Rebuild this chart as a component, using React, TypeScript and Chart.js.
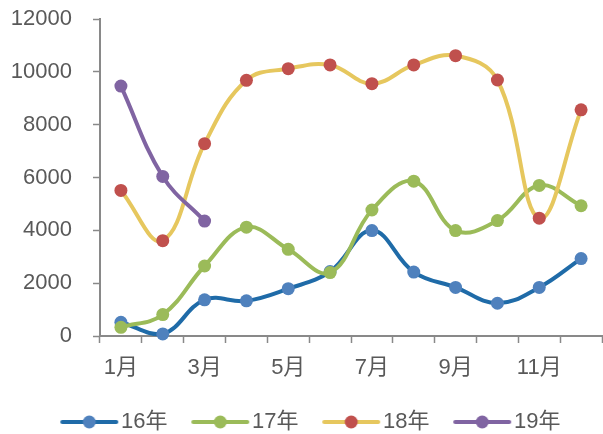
import React, { useEffect, useRef } from 'react';
import { Chart, registerables } from 'chart.js';

Chart.register(...registerables);

const months = ['1月', '2月', '3月', '4月', '5月', '6月', '7月', '8月', '9月', '10月', '11月', '12月'];
const seriesNames = ['16年', '17年', '18年', '19年'];
const s16 = [520, 80, 1370, 1330, 1790, 2440, 3990, 2420, 1840, 1240, 1840, 2930];
const s17 = [330, 810, 2650, 4120, 3280, 2400, 4770, 5860, 3990, 4370, 5700, 4930];
const s18 = [5510, 3610, 7280, 9680, 10120, 10260, 9550, 10260, 10610, 9690, 4460, 8560];
const s19 = [9460, 6040, 4350, null, null, null, null, null, null, null, null, null];
const yMin = 0;
const yMax = 12000;
const yStep = 2000;

const lineColors = ['#1F6BA8', '#9BBB59', '#E6C75E', '#8064A2'];
const pointColors = ['#4F81BD', '#9BBB59', '#C0504D', '#8064A2'];

const FONT = "'Liberation Sans', Arial, 'Noto Sans CJK SC', sans-serif";
const TEXT = '#595959';
const AXIS = '#898989';

function makeIcon(line: string, point: string): HTMLCanvasElement {
  const c = document.createElement('canvas');
  c.width = 100;
  c.height = 20;
  const ctx = c.getContext('2d')!;
  ctx.strokeStyle = line;
  ctx.lineWidth = 4;
  ctx.lineCap = 'round';
  ctx.beginPath();
  ctx.moveTo(34, 10);
  ctx.lineTo(88, 10);
  ctx.stroke();
  ctx.fillStyle = point;
  ctx.beginPath();
  ctx.arc(61, 10, 6.5, 0, Math.PI * 2);
  ctx.fill();
  return c;
}

export default function App() {
  const ref = useRef<HTMLCanvasElement>(null);

  useEffect(() => {
    if (!ref.current) return;
    const series = [s16, s17, s18, s19];
    const icons = series.map((_, i) => makeIcon(lineColors[i], pointColors[i]));
    const chart = new Chart(ref.current, {
      type: 'line',
      data: {
        labels: months,
        datasets: series.map((d, i) => ({
          label: seriesNames[i],
          data: d,
          borderColor: lineColors[i],
          backgroundColor: pointColors[i],
          pointBackgroundColor: pointColors[i],
          pointBorderColor: pointColors[i],
          pointBorderWidth: 0,
          pointRadius: 6.5,
          borderWidth: 4,
          tension: 0.4,
          fill: false,
          spanGaps: false,
          clip: false,
          order: 4 - i,
        })),
      },
      options: {
        responsive: false,
        animation: false,
        devicePixelRatio: 1,
        layout: { autoPadding: false, padding: { top: 19, left: 5, right: 1, bottom: -9 } },
        plugins: {
          tooltip: { enabled: false },
          legend: {
            position: 'bottom',
            labels: {
              usePointStyle: true,
              pointStyleWidth: 63.5,
              padding: 10,
              color: TEXT,
              font: { family: FONT, size: 22 },
              generateLabels: (ch: any) => {
                const items = Chart.defaults.plugins.legend.labels.generateLabels(ch);
                return items
                  .sort((a: any, b: any) => a.datasetIndex - b.datasetIndex)
                  .map((it: any) => ({ ...it, pointStyle: icons[it.datasetIndex] }));
              },
            },
          },
        },
        scales: {
          x: {
            offset: true,
            grid: {
              offset: true,
              drawOnChartArea: false,
              drawTicks: true,
              tickLength: 7,
              tickColor: AXIS,
              tickWidth: 1.5,
            },
            border: { display: true, color: AXIS, width: 2 },
            ticks: {
              autoSkip: false,
              maxRotation: 0,
              padding: 12,
              color: TEXT,
              font: { family: FONT, size: 22 },
              callback: function (this: any, value: any, index: number) {
                return index % 2 === 0 ? months[index] : '';
              },
            },
            afterFit: (s: any) => {
              s.height = 65;
              s.paddingLeft = 0;
              s.paddingRight = 0;
            },
          },
          y: {
            min: yMin,
            max: yMax,
            grid: {
              drawOnChartArea: false,
              drawTicks: true,
              tickLength: 7,
              tickColor: AXIS,
              tickWidth: 1.5,
            },
            border: { display: true, color: AXIS, width: 2 },
            ticks: {
              stepSize: yStep,
              padding: 21,
              color: TEXT,
              font: { family: FONT, size: 22 },
              callback: (v: any) => String(v),
            },
            afterFit: (s: any) => {
              s.width = 95;
              s.paddingTop = 0;
              s.paddingBottom = 0;
            },
          },
        },
      },
    });
    return () => chart.destroy();
  }, []);

  return (
    <div style={{ position: 'fixed', left: 0, top: 0, width: 603, height: 434, background: '#fff' }}>
      <canvas ref={ref} width={603} height={434} style={{ width: 603, height: 434 }} />
    </div>
  );
}
